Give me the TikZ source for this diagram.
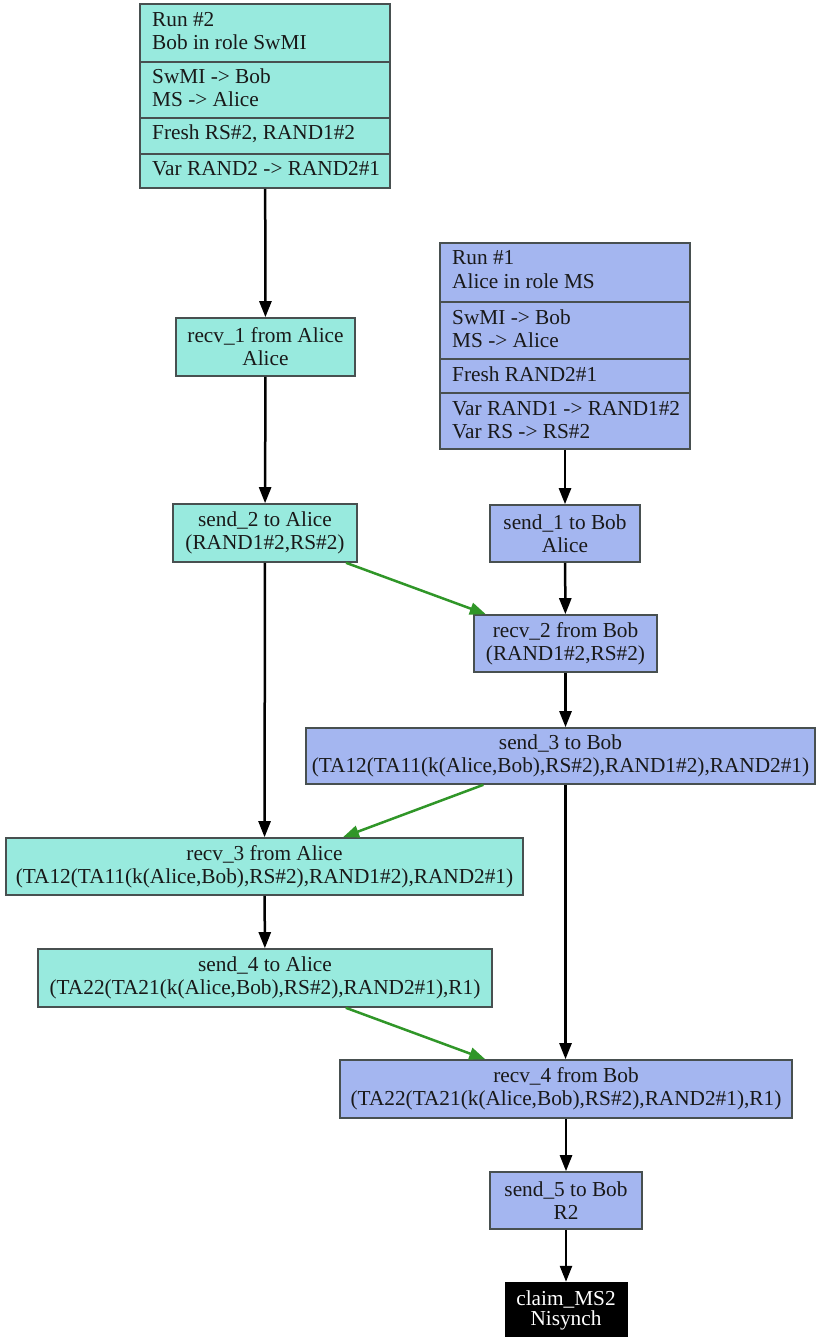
\documentclass[tikz,border=0pt]{standalone}
\usepackage{fontspec}
\setmainfont{Liberation Serif}
\usetikzlibrary{arrows.meta}
\definecolor{bobfill}{RGB}{152,234,222}
\definecolor{alicefill}{RGB}{164,182,240}
\definecolor{boxline}{RGB}{72,80,80}
\definecolor{msgline}{RGB}{48,150,40}
\tikzset{
  every node/.style={font=\fontsize{21.3}{23}\selectfont, text=black!90},
  evbox/.style={draw=boxline, line width=1.6pt, rectangle, inner sep=0pt, align=center},
  bobbox/.style={evbox, fill=bobfill},
  alicebox/.style={evbox, fill=alicefill},
  claimbox/.style={rectangle, fill=black, draw=black, inner sep=0pt, align=center,
    font=\fontsize{21.3}{20.5}\selectfont, text=white},
  runline/.style={anchor=base west, inner sep=0pt},
  divider/.style={draw=boxline, line width=1.6pt},
  flow/.style={line width=2.5pt, draw=black, -{Triangle[length=16pt,width=12pt]}},
  msg/.style={line width=2.5pt, draw=msgline, -{Triangle[length=16pt,width=12pt]}},
}
\begin{document}
\begin{tikzpicture}[x=1pt, y=-1pt]
\useasboundingbox (0,0) rectangle (816,1337);

% ---- run #2 (Bob as SwMI) header ----
\node[bobbox, minimum width=250pt, minimum height=184pt] (run2) at (265,96) {};
\draw[divider] (run2.west |- 0,62) -- (run2.east |- 0,62);
\draw[divider] (run2.west |- 0,118) -- (run2.east |- 0,118);
\draw[divider] (run2.west |- 0,154) -- (run2.east |- 0,154);
\node[runline] (r2a) at (152,27) {Run \#2};
\node[runline] (r2b) at (152,50) {Bob in role SwMI};
\node[runline] (r2c) at (152,84) {SwMI -> Bob};
\node[runline] (r2d) at (152,107) {MS -> Alice};
\node[runline] (r2e) at (152,140) {Fresh RS\#2, RAND1\#2};
\node[runline] (r2f) at (152,176) {Var RAND2 -> RAND2\#1};

% ---- run #1 (Alice as MS) header ----
\node[alicebox, minimum width=250pt, minimum height=206pt] (run1) at (565,346) {};
\draw[divider] (run1.west |- 0,302) -- (run1.east |- 0,302);
\draw[divider] (run1.west |- 0,359) -- (run1.east |- 0,359);
\draw[divider] (run1.west |- 0,393) -- (run1.east |- 0,393);
\node[runline] (r1a) at (452,265) {Run \#1};
\node[runline] (r1b) at (452,288) {Alice in role MS};
\node[runline] (r1c) at (452,324) {SwMI -> Bob};
\node[runline] (r1d) at (452,347) {MS -> Alice};
\node[runline] (r1e) at (452,381) {Fresh RAND2\#1};
\node[runline] (r1f) at (452,415) {Var RAND1 -> RAND1\#2};
\node[runline] (r1g) at (452,438) {Var RS -> RS\#2};

% ---- Bob's events ----
\node[bobbox, minimum width=179pt, minimum height=58pt] (recv1) at (265.5,347) {recv\_1 from Alice\\Alice};
\node[bobbox, minimum width=184pt, minimum height=58pt] (send2) at (265,533) {send\_2 to Alice\\(RAND1\#2,RS\#2)};
\node[bobbox, minimum width=517pt, minimum height=57pt] (recv3) at (264.5,866.5) {recv\_3 from Alice\\(TA12(TA11(k(Alice,Bob),RS\#2),RAND1\#2),RAND2\#1)};
\node[bobbox, minimum width=454pt, minimum height=58pt] (send4) at (265,978) {send\_4 to Alice\\(TA22(TA21(k(Alice,Bob),RS\#2),RAND2\#1),R1)};

% ---- Alice's events ----
\node[alicebox, minimum width=150pt, minimum height=57pt] (send1) at (565,533.5) {send\_1 to Bob\\Alice};
\node[alicebox, minimum width=183pt, minimum height=57pt] (recv2) at (565.5,643.5) {recv\_2 from Bob\\(RAND1\#2,RS\#2)};
\node[alicebox, minimum width=509pt, minimum height=56pt] (send3) at (560.5,756) {send\_3 to Bob\\(TA12(TA11(k(Alice,Bob),RS\#2),RAND1\#2),RAND2\#1)};
\node[alicebox, minimum width=452pt, minimum height=58pt] (recv4) at (566,1089) {recv\_4 from Bob\\(TA22(TA21(k(Alice,Bob),RS\#2),RAND2\#1),R1)};
\node[alicebox, minimum width=152pt, minimum height=57pt] (send5) at (566,1200.5) {send\_5 to Bob\\R2};
\node[claimbox, minimum width=122pt, minimum height=57pt] (claim) at (566,1310.5) {claim\_MS2\\Nisynch};

% ---- run order ----
\draw[flow] (run2) -- (recv1);
\draw[flow] (recv1) -- (send2);
\draw[flow] (send2) -- (recv3);
\draw[flow] (recv3) -- (send4);
\draw[flow] (run1) -- (send1);
\draw[flow] (send1) -- (recv2);
\draw[flow] (recv2) -- (recv2 |- send3.north);
\draw[flow] (send3.south -| recv2) -- (recv2 |- recv4.north);
\draw[flow] (recv4) -- (send5);
\draw[flow] (send5) -- (claim);

% ---- message transfers ----
\draw[msg] (send2) -- (recv2);
\draw[msg] (send3) -- (recv3);
\draw[msg] (send4) -- (recv4);
\end{tikzpicture}
\end{document}
